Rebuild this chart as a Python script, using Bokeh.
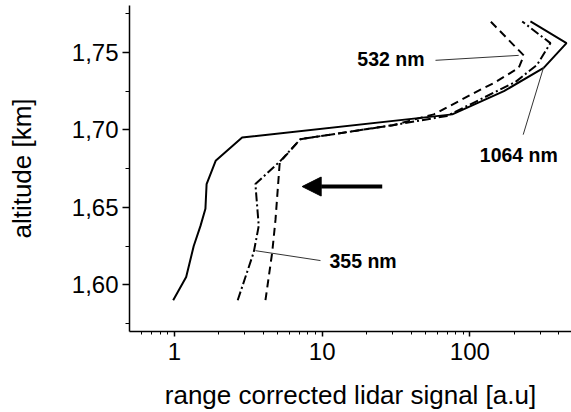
from bokeh.plotting import figure
from bokeh.models import Range1d, FixedTicker, Arrow, NormalHead, ColumnDataSource
from bokeh.core.properties import value
from bokeh.embed import file_html
from bokeh.resources import INLINE

# 1064 nm (solid)
x_1064 = [0.98, 1.20, 1.35, 1.50, 1.62, 1.65, 1.90, 2.87, 76, 170, 316, 451, 257]
y_1064 = [1.590, 1.605, 1.625, 1.638, 1.649, 1.665, 1.680, 1.695, 1.710, 1.725, 1.740, 1.756, 1.770]
# 532 nm (dashed)
x_532 = [4.13, 4.59, 4.83, 5.16, 7.13, 30, 57, 118, 144, 214, 232, 138]
y_532 = [1.590, 1.621, 1.642, 1.679, 1.694, 1.703, 1.710, 1.726, 1.730, 1.740, 1.748, 1.770]
# 355 nm (dash-dot)
x_355 = [2.68, 3.44, 3.72, 3.53, 5.22, 7.13, 30, 70, 204, 285, 351, 226]
y_355 = [1.590, 1.621, 1.638, 1.665, 1.680, 1.694, 1.703, 1.709, 1.731, 1.742, 1.756, 1.770]

# annotations
label_text = ["532 nm", "1064 nm", "355 nm"]
label_x = [17.3, 116.7, 11.2]
label_y = [1.7457, 1.684, 1.6151]
leader_x0 = [58.5, 229.6, 9.74]
leader_y0 = [1.7449, 1.6969, 1.6156]
leader_x1 = [214, 316.5, 3.53]
leader_y1 = [1.7481, 1.7408, 1.622]
arrow_x = [25.5, 7.32]
arrow_y = [1.6634, 1.6634]

x_ticks = [1, 10, 100]
x_tick_labels = ["1", "10", "100"]
x_minor = [0.6, 0.7, 0.8, 0.9, 2, 3, 4, 5, 6, 7, 8, 9, 20, 30, 40, 50, 60, 70, 80, 90, 200, 300, 400]
y_ticks = [1.60, 1.65, 1.70, 1.75]
y_tick_labels = ["1,60", "1,65", "1,70", "1,75"]
y_minor = [1.575, 1.625, 1.675, 1.725, 1.775]
x_title = "range corrected lidar signal [a.u]"
y_title = "altitude [km]"

FONT = "Liberation Sans"

p = figure(width=571, height=412, output_backend="svg", toolbar_location=None,
           x_axis_type="log",
           x_range=Range1d(0.496, 487.5), y_range=Range1d(1.5698, 1.7803),
           min_border_left=129, min_border_right=0, min_border_top=5, min_border_bottom=79)
p.outline_line_color = None
p.xgrid.visible = False
p.ygrid.visible = False
p.background_fill_color = "white"
p.border_fill_color = "white"

p.line(x_1064, y_1064, line_color="black", line_width=2)
p.line(x_532, y_532, line_color="black", line_width=2, line_dash="8 5")
p.line(x_355, y_355, line_color="black", line_width=2, line_dash="9 3 2 3")

p.segment(x0=leader_x0, y0=leader_y0, x1=leader_x1, y1=leader_y1, line_color="#333333", line_width=1)

src = ColumnDataSource(dict(x=label_x, y=label_y, t=label_text))
p.text(x="x", y="y", text="t", source=src, text_font=value(FONT), text_font_style="bold",
       text_font_size="19.5px", text_baseline="middle", text_align="left", text_color="black")

p.add_layout(Arrow(end=NormalHead(size=19, fill_color="black", line_color="black", line_width=1),
                   x_start=arrow_x[0], y_start=arrow_y[0], x_end=arrow_x[1], y_end=arrow_y[1],
                   line_width=4, line_color="black"))

xa = p.xaxis[0]
xa.ticker = FixedTicker(ticks=x_ticks, minor_ticks=x_minor)
xa.major_label_overrides = {t: l for t, l in zip(x_ticks, x_tick_labels)}
xa.axis_label = x_title
ya = p.yaxis[0]
ya.ticker = FixedTicker(ticks=y_ticks, minor_ticks=y_minor)
ya.major_label_overrides = {t: l for t, l in zip(y_ticks, y_tick_labels)}
ya.axis_label = y_title

for ax in (xa, ya):
    ax.axis_line_color = "black"
    ax.axis_line_width = 1.5
    ax.major_tick_line_color = "black"
    ax.minor_tick_line_color = "black"
    ax.major_tick_line_width = 1.5
    ax.minor_tick_line_width = 1
    ax.major_tick_in = 0
    ax.minor_tick_in = 0
    ax.major_label_text_font = FONT
    ax.major_label_text_font_size = "24px"
    ax.major_label_text_color = "black"
    ax.axis_label_text_font = FONT
    ax.axis_label_text_font_size = "26px"
    ax.axis_label_text_font_style = "normal"
    ax.axis_label_text_color = "black"

xa.major_tick_out = 5
xa.minor_tick_out = 3
xa.major_label_standoff = 6
xa.axis_label_standoff = 17
ya.major_tick_out = 7
ya.minor_tick_out = 4
ya.major_label_standoff = 4
ya.axis_label_standoff = 32

open("out.html", "w").write(file_html(p, INLINE))
